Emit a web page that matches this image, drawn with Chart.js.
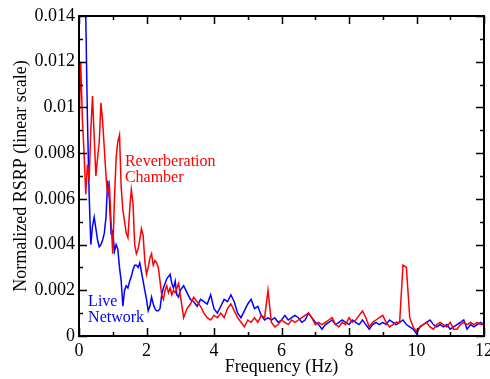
<!DOCTYPE html>
<html>
<head>
<meta charset="utf-8">
<script src="https://cdn.jsdelivr.net/npm/chart.js@4/dist/chart.umd.min.js"></script>
<style>
html,body{margin:0;padding:0;background:#fff;}
#wrap{width:490px;height:379px;position:relative;}
</style>
</head>
<body>
<div id="wrap"><canvas id="c" width="490" height="379"></canvas></div>
<script>
// Frequency grid (Hz)
const freq = [
0,0.05,0.1,0.15,0.2,0.25,0.3,0.35,0.4,0.45,
0.5,0.55,0.6,0.65,0.7,0.75,0.8,0.85,0.9,0.95,
1,1.05,1.1,1.15,1.2,1.25,1.3,1.35,1.4,1.45,
1.5,1.55,1.6,1.65,1.7,1.75,1.8,1.85,1.9,1.95,
2,2.05,2.1,2.15,2.2,2.25,2.3,2.35,2.4,2.45,
2.5,2.55,2.6,2.65,2.7,2.75,2.8,2.85,2.9,2.95,
3,
3.1,3.2,3.3,3.4,3.5,3.6,3.7,3.8,3.9,4,
4.1,4.2,4.3,4.4,4.5,4.6,4.7,4.8,4.9,5,
5.1,5.2,5.3,5.4,5.5,5.6,5.7,5.8,5.9,6,
6.1,6.2,6.3,6.4,6.5,6.6,6.7,6.8,6.9,7,
7.1,7.2,7.3,7.4,7.5,7.6,7.7,7.8,7.9,8,
8.1,8.2,8.3,8.4,8.5,8.6,8.7,8.8,8.9,9,
9.1,9.2,9.3,9.4,9.5,9.6,9.7,9.8,9.9,10,
10.1,10.2,10.3,10.4,10.5,10.6,10.7,10.8,10.9,11,
11.1,11.2,11.3,11.4,11.5,11.6,11.7,11.8,11.9,12
];

// Reverberation Chamber (red)
const reverbChamber = [
0.0089,0.0120,0.0095,0.0080,0.0062,0.0075,0.0068,0.0090,0.0105,0.0087,
0.0070,0.0078,0.0085,0.0102,0.0094,0.0082,0.0070,0.0062,0.0066,0.0050,
0.0036,0.0060,0.0078,0.0085,0.0088,0.0065,0.0055,0.0050,0.0045,0.0043,
0.0055,0.0064,0.0058,0.0040,0.0036,0.0038,0.0042,0.0047,0.0044,0.0033,
0.0027,0.0030,0.0034,0.0036,0.0031,0.0033,0.0032,0.0030,0.0024,0.0018,
0.0016,0.0020,0.0022,0.0019,0.0021,0.0018,0.0020,0.0019,0.0021,0.0023,
0.0018,
0.0008,0.0012,0.0014,0.0017,0.0015,0.0013,0.0010,0.0008,0.0007,0.0009,
0.0008,0.0010,0.0008,0.0012,0.0014,0.0011,0.0008,0.0006,0.0004,0.0007,
0.0006,0.0008,0.0006,0.0009,0.0008,0.0020,0.0006,0.0004,0.0005,0.0007,
0.0006,0.0005,0.0007,0.0006,0.0007,0.0008,0.0009,0.0010,0.0008,0.0005,
0.0006,0.0005,0.0006,0.0007,0.0008,0.0005,0.0004,0.0006,0.0005,0.0008,
0.0006,0.0007,0.0009,0.0011,0.0008,0.0004,0.0006,0.0007,0.0008,0.0009,
0.0006,0.0004,0.0005,0.0006,0.0006,0.0031,0.0030,0.0008,0.0004,0.0002,
0.0004,0.0005,0.0006,0.0004,0.0003,0.0005,0.0006,0.0005,0.0004,0.0006,
0.0003,0.0003,0.0005,0.0006,0.0005,0.0006,0.0005,0.0006,0.0005,0.0005
];

// Live Network (blue)
const liveNetwork = [
0.0160,0.0155,0.0150,0.0148,0.0140,0.0095,0.0062,0.0040,0.0048,0.0052,
0.0047,0.0042,0.0039,0.0040,0.0042,0.0045,0.0052,0.0068,0.0060,0.0045,
0.0046,0.0037,0.0040,0.0038,0.0030,0.0024,0.0013,0.0020,0.0022,0.0021,
0.0024,0.0026,0.0029,0.0031,0.0031,0.0030,0.0032,0.0028,0.0024,0.0020,
0.0016,0.0011,0.0013,0.0017,0.0014,0.0012,0.0011,0.0011,0.0012,0.0018,
0.0021,0.0023,0.0025,0.0026,0.0027,0.0023,0.0021,0.0024,0.0018,0.0017,
0.0020,
0.0022,0.0019,0.0016,0.0015,0.0013,0.0016,0.0015,0.0014,0.0018,0.0012,
0.0010,0.0013,0.0016,0.0015,0.0018,0.0015,0.0010,0.0008,0.0011,0.0014,
0.0016,0.0012,0.0013,0.0009,0.0007,0.0008,0.0007,0.0008,0.0006,0.0007,
0.0009,0.0007,0.0008,0.0009,0.0008,0.0006,0.0007,0.0010,0.0008,0.0006,
0.0005,0.0003,0.0005,0.0006,0.0007,0.0005,0.0006,0.0007,0.0006,0.0005,
0.0007,0.0006,0.0005,0.0007,0.0005,0.0003,0.0005,0.0006,0.0005,0.0006,
0.0005,0.0007,0.0006,0.0005,0.0006,0.0007,0.0005,0.0004,0.0003,0.0001,
0.0004,0.0005,0.0006,0.0007,0.0005,0.0004,0.0005,0.0004,0.0005,0.0003,
0.0004,0.0005,0.0006,0.0007,0.0003,0.0005,0.0004,0.0005,0.0006,0.0005
];

// Tick labels (major ticks only)
const xTickLabels = ['0','2','4','6','8','10','12'];
const yTickLabels = ['0','0.002','0.004','0.006','0.008','0.01','0.012','0.014'];

// In-plot text labels: [line1, line2], anchor in data units
const seriesNotes = [
  {lines:['Reverberation','Chamber'], x:1.36, y:0.0076, color:'#ff0000'},
  {lines:['Live','Network'], x:0.27, y:0.0015, color:'#0000ff'}
];

const FONT = "'Liberation Serif','Times New Roman',serif";

const framePlugin = {
  id:'frame',
  afterDraw(chart){
    const ctx = chart.ctx, a = chart.chartArea;
    const xs = chart.scales.x, ys = chart.scales.y;
    ctx.save();
    ctx.strokeStyle = '#000';
    ctx.lineWidth = 1.5;
    ctx.beginPath();
    xs.ticks.forEach((t,i)=>{
      const px = Math.round(xs.getPixelForValue(t.value))+0.5;
      const len = (i%2===0)?8:4;
      ctx.moveTo(px,a.bottom); ctx.lineTo(px,a.bottom-len);
      ctx.moveTo(px,a.top); ctx.lineTo(px,a.top+len);
    });
    ys.ticks.forEach((t,i)=>{
      const py = Math.round(ys.getPixelForValue(t.value))+0.5;
      const len = (i%2===0)?8:4;
      ctx.moveTo(a.left,py); ctx.lineTo(a.left+len,py);
      ctx.moveTo(a.right,py); ctx.lineTo(a.right-len,py);
    });
    ctx.stroke();
    ctx.lineWidth = 2;
    ctx.strokeRect(a.left, a.top, a.right-a.left, a.bottom-a.top);
    // notes
    ctx.font = '16px ' + FONT;
    ctx.textAlign = 'left';
    ctx.textBaseline = 'middle';
    seriesNotes.forEach(n=>{
      const px = xs.getPixelForValue(n.x);
      const py = ys.getPixelForValue(n.y);
      ctx.fillStyle = n.color;
      n.lines.forEach((s,k)=>ctx.fillText(s, px, py + k*16));
    });
    ctx.restore();
  }
};

new Chart(document.getElementById('c'), {
  type:'line',
  data:{
    datasets:[
      {label:'Reverberation Chamber', data:freq.map((f,i)=>({x:f,y:reverbChamber[i]})),
       borderColor:'#ff0000', borderWidth:1.5, pointRadius:0, tension:0, order:1},
      {label:'Live Network', data:freq.map((f,i)=>({x:f,y:liveNetwork[i]})),
       borderColor:'#0000ff', borderWidth:1.5, pointRadius:0, tension:0, order:2}
    ]
  },
  options:{
    responsive:false,
    animation:false,
    devicePixelRatio:1,
    layout:{padding:{top:16,right:6,left:0,bottom:0}},
    plugins:{legend:{display:false},tooltip:{enabled:false}},
    scales:{
      x:{
        type:'linear', min:0, max:12,
        grid:{display:false, drawTicks:false},
        border:{display:false},
        ticks:{stepSize:1, autoSkip:false, maxRotation:0, padding:4, color:'#000',
          font:{family:FONT, size:18},
          callback:(v,i)=> (i%2===0 ? xTickLabels[i/2] : '')},
        title:{display:true, text:'Frequency (Hz)', color:'#000',
          font:{family:FONT, size:18}, padding:{top:0,bottom:1}},
        afterFit(s){ s.height = 43; s.paddingLeft = 0; s.paddingRight = 0; }
      },
      y:{
        type:'linear', min:0, max:0.014,
        grid:{display:false, drawTicks:false},
        border:{display:false},
        ticks:{stepSize:0.001, autoSkip:false, padding:4, color:'#000',
          font:{family:FONT, size:18},
          callback:(v,i)=> (i%2===0 ? yTickLabels[i/2] : '')},
        title:{display:true, text:'Normalized RSRP (linear scale)', color:'#000',
          font:{family:FONT, size:18}, padding:{top:10,bottom:0}},
        afterFit(s){ s.width = 79; s.paddingTop = 0; s.paddingBottom = 0; }
      }
    }
  },
  plugins:[framePlugin]
});
</script>
</body>
</html>
